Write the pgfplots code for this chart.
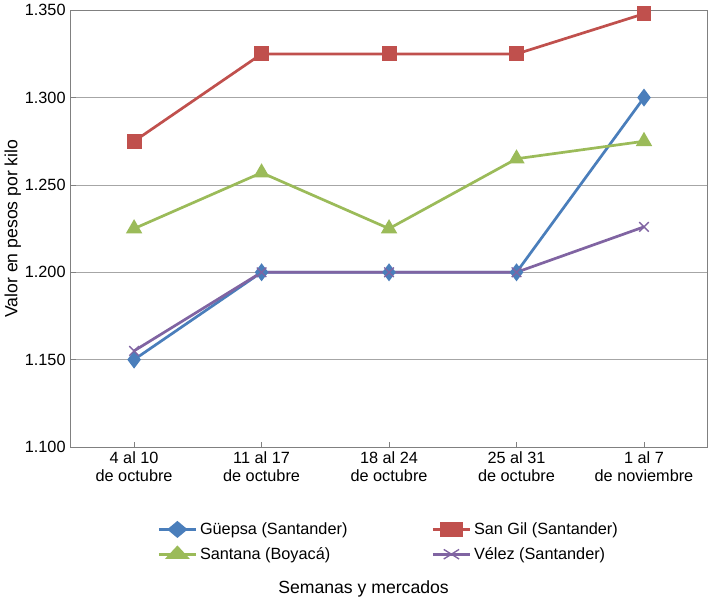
\documentclass[border=0pt]{standalone}
\usepackage{pgfplots}
\pgfplotsset{compat=1.18}
\usepackage{fontspec}
\setmainfont{Liberation Sans}
\definecolor{cb}{HTML}{4A7EBB}
\definecolor{cr}{HTML}{C0504D}
\definecolor{cg}{HTML}{9BBB59}
\definecolor{cp}{HTML}{8064A2}
\begin{document}
\begin{tikzpicture}
\begin{axis}[
  scale only axis, width=470pt, height=322pt,
  xmin=-0.5, xmax=4.5, ymin=1100, ymax=1350,
  ytick={1100,1150,...,1350},
  /pgf/number format/.cd, 1000 sep={.}, assume math mode=true, /pgfplots/.cd,
  yticklabel style={font=\fontsize{12}{13}\selectfont},
  xtick={0,...,4},
  xticklabels={4 al 10\\de octubre,11 al 17\\de octubre,18 al 24\\de octubre,25 al 31\\de octubre,1 al 7\\de noviembre},
  xticklabel style={align=center, font=\fontsize{12}{13}\selectfont},
  ymajorgrids, grid style={gray!70},
  axis line style={gray},
  tick style={gray}, major tick length=4pt,
  xtick pos=bottom, ytick pos=left,
  ylabel={Valor en pesos por kilo},
  ylabel style={font=\fontsize{13}{14}\selectfont, yshift=-4pt},
  legend style={at={(0.5,-0.16)}, anchor=north, draw=none, font=\fontsize{12}{13}\selectfont,
    /tikz/every even column/.append style={column sep=60pt}, row sep=4pt},
  legend image post style={xscale=1.6},
  legend columns=2, legend cell align=left,
  every axis plot/.append style={line width=2pt},
  clip=false,
]
\addplot[cb, mark=diamond*, mark size=5pt] coordinates {(0,1150)(1,1200)(2,1200)(3,1200)(4,1300)};
\addlegendentry{Güepsa (Santander)}
\addplot[cr, mark=square*, mark size=4.5pt] coordinates {(0,1275)(1,1325)(2,1325)(3,1325)(4,1348)};
\addlegendentry{San Gil (Santander)}
\addplot[cg, mark=triangle*, mark size=5pt] coordinates {(0,1225)(1,1257)(2,1225)(3,1265)(4,1275)};
\addlegendentry{Santana (Boyacá)}
\addplot[cp, mark=x, mark size=5pt, mark options={line width=1pt}] coordinates {(0,1155)(1,1200)(2,1200)(3,1200)(4,1226)};
\addlegendentry{Vélez (Santander)}
\node[font=\fontsize{13}{14}\selectfont, anchor=south] at (rel axis cs:0.46,-0.355) {Semanas y mercados};
\end{axis}
\end{tikzpicture}
\end{document}
